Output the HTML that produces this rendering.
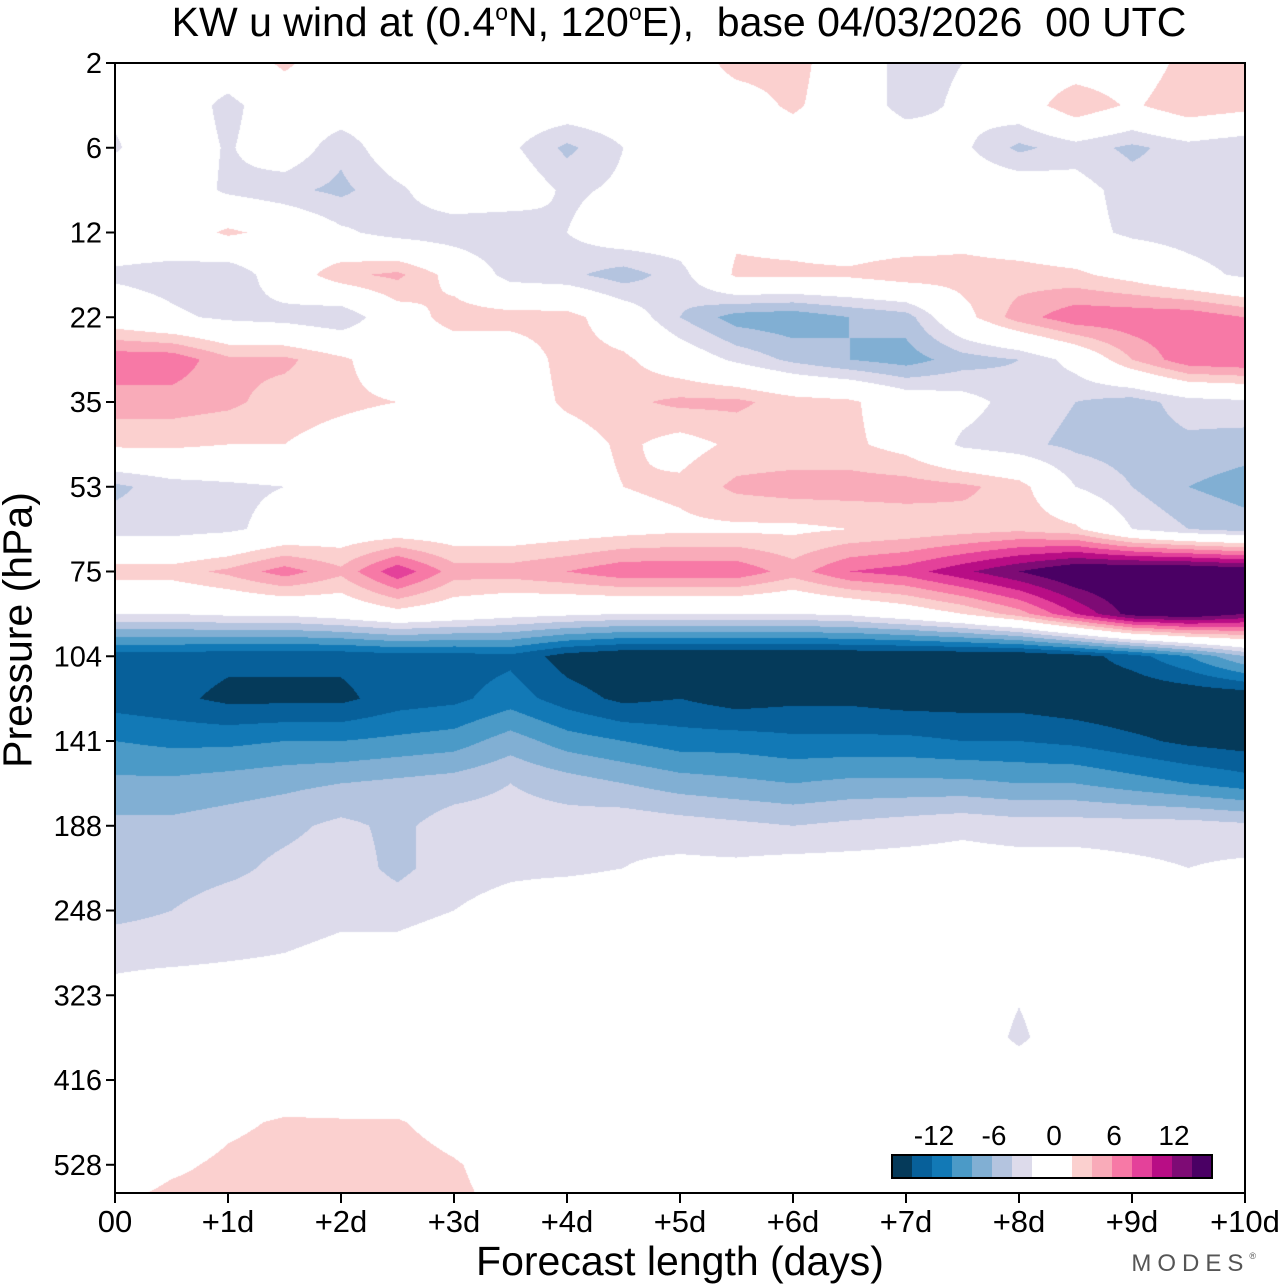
<!DOCTYPE html>
<html>
<head>
<meta charset="utf-8">
<style>
  html, body { margin: 0; padding: 0; background: #fff; }
  body { width: 1280px; height: 1286px; position: relative; overflow: hidden; font-family: "Liberation Sans", Arial, sans-serif; color: #000; }
  #title { position: absolute; top: 0; left: 0; width: 1358px; text-align: center; font-size: 41px; line-height: 44px; }
  #title sup { font-size: 23px; vertical-align: 16px; line-height: 0; }
  #field { position: absolute; left: 115px; top: 63px; }
  #axes { position: absolute; left: 0; top: 0; }
  #ylabel { position: absolute; left: 18px; top: 630px; transform: translate(-50%, -50%) rotate(-90deg); transform-origin: center; font-size: 41px; white-space: nowrap; }
  #xlabel { position: absolute; left: 680px; top: 1238px; transform: translateX(-50%); font-size: 41px; white-space: nowrap; }
  #modes { position: absolute; right: 24px; top: 1250px; font-size: 24px; letter-spacing: 6px; color: #555; }
  #modes sup { font-size: 9px; letter-spacing: 0; vertical-align: 12px; }
</style>
</head>
<body>
<div id="title">KW u wind at (0.4<sup>o</sup>N, 120<sup>o</sup>E),&nbsp; base 04/03/2026&nbsp; 00 UTC</div>
<canvas id="field" width="1130" height="1130"></canvas>
<svg id="axes" width="1280" height="1286"></svg>
<div id="ylabel">Pressure (hPa)</div>
<div id="xlabel">Forecast length (days)</div>
<div id="modes">MODES<sup>®</sup></div>
<script>
// ---- data ----
const pressureLabels = ["2","6","12","22","35","53","75","104","141","188","248","323","416","528"];
const dayLabels = ["00","+1d","+2d","+3d","+4d","+5d","+6d","+7d","+8d","+9d","+10d"];
const colorbarLabels = [-12, -6, 0, 6, 12];
const levelBounds = [-14,-12,-10,-8,-6,-4,-2,2,4,6,8,10,12,14];
const levelColors = ["#053a5a","#07609a","#1279b6","#4b9ac7","#81afd3","#b4c4df","#dddbeb","#ffffff","#fbd0cf","#f9abb9","#f779a6","#e4419a","#b80d85","#7e0b75","#4a0064"];
// forecast time (days) of each grid column, every 12 h
const forecastDays = [0,0.5,1,1.5,2,2.5,3,3.5,4,4.5,5,5.5,6,6.5,7,7.5,8,8.5,9,9.5,10];
// model-level index (in tick units, 0 = 2 hPa) of each grid row
const levelIndex = [0,0.5,1,1.5,2,2.5,3,3.5,4,4.5,5,5.5,6,6.5,7,7.5,8,8.5,9,9.5,10,10.5,11,11.5,12,12.5,13,13.5];
// u wind (m/s), rows = levels, cols = forecast times
const uWind = [
 [0,0,0,2.5,0,0,0,-1,-1,0,0,3,3,0,-3,-2,0,0,0,3,3],
 [-1.5,0,-2.8,0,0,0,0,0,0,0,0,0.5,2.5,0,-3,-1.5,0,4,1.5,4,3],
 [-2.3,0,-2.3,0,-3.5,0,0,-1.5,-4.5,-2,0,0,0,0,0,-1.5,-4.5,-3,-4.5,-3,-4],
 [0,0,-2.5,-3.5,-4.5,-2.5,0,0,-2.5,-1.5,0,0,0,0,0,0,0,-1,-3,-3,-3.5],
 [0,0,2.5,1,-1.5,-3,-3.5,-4,-2,0,0,1.5,1,0,0,1,0,-1,-2.5,-3,-3.5],
 [-2.5,-3,-4,0,3.5,4.5,1,-3,-3.5,-5,-3,2.5,2.5,2.5,3.5,3,3,2.5,1,-1,-2.5],
 [0,-1.5,-2.5,-3,-4,0.5,3,3,3,0,-4,-7,-7.5,-6,-5,1,5,7.5,7.5,7.5,6],
 [7.5,7.5,4.5,4.5,2.5,0,0,0,3,2.5,0,-2.5,-4.5,-6,-7,-5,-4,-1,4,7.5,8],
 [5,5,4.5,3,2.5,2,0,0,2.5,3.5,4.5,4.5,3,2.5,0,-1,-3,-4,-5,-3,-2.5],
 [2.5,2.5,2,2,1,0,0,0,0.5,2.5,1,2.5,2.5,2.5,1,-2.5,-3.5,-4.5,-5,-4.5,-5],
 [-4.5,-3,-2.5,-2,1,0,0,0,0.5,2,2.5,4.5,5,5,5,4.5,3,-2,-4,-6,-7],
 [-3,-3,-2.5,-1,0,0,0,0,0.5,1,1.5,1.5,1.5,2,2.5,3,3.5,2.5,-2,-4,-5],
 [3,3,4.5,7,4.5,9.5,5,5,6,7.5,7.5,7.5,5,8,9,11.5,14,16.5,17,17,16],
 [-2,-2,-1.5,-1.5,-0.5,1,0,-1,-1.5,-2,-2,-2,-2,-1.5,0,2,5,10,15,16,14],
 [-13,-13,-13.5,-13.5,-13.5,-13,-13,-12.5,-15,-16,-16,-16,-16,-16,-16,-16,-16,-15,-13,-10,-6],
 [-13,-13.5,-14.5,-14.5,-14.5,-13,-12.5,-11,-13,-14.5,-14,-15,-14.5,-14.5,-15,-15,-15,-15.5,-16,-16,-16],
 [-10,-10.5,-10.5,-10,-10,-9.5,-9,-7,-9,-10,-11,-11,-11.5,-11.5,-11.5,-12,-12,-12.5,-13.5,-14.5,-15],
 [-7.5,-7.5,-7,-6.5,-6,-5.5,-5,-4,-5,-6,-7,-7.5,-8,-7.5,-7.5,-7.5,-8,-8,-9,-10,-11],
 [-5.5,-5.5,-5,-4.5,-3.5,-4.5,-3,-3,-3,-2.5,-3,-3.5,-4,-3.5,-3,-2.5,-3,-3,-3,-3,-3.5],
 [-5,-5,-4.5,-3.5,-3,-4.5,-3,-2.5,-2.5,-2,-1.5,-1.5,-1,-1,-1,-1,-1,-1,-1.5,-2,-1.5],
 [-4.5,-4,-3,-3,-2.5,-3,-2,-1,0,0,0,0,0,0,0,0,0,0,0,0,0],
 [-3,-3,-2.5,-2,-1.5,-1,0,0,0,0,0,0,0,0,0,0,0,0,0,0,0],
 [-1,0,0,0,0,0,0,0,0,0,0,0,0,0,0,0,-1.8,0,0,0,0],
 [0,0,0,0,0,0,0,0,0,0,0,0,0,0,0,0,-2.5,0,0,0,0],
 [0,0,0,0,0,0,0,0,0,0,0,0,0,0,0,0,0,0,0,0,0],
 [0,0,1.5,2.3,2.2,2.2,1,0,0,0,0,0,0,0,0,0,0,0,0,0,0],
 [0,1.5,2.5,3,3,3,2.2,1,0,0,0,0,0,0,0,0,0,0,0,0,0],
 [2,3,3,3,3,3,2.5,1.5,0,0,0,0,0,0,0,0,0,0,0,0,0]
];

// ---- axes ----
const PL = 115, PT = 63, PW = 1130, PH = 1130;
const xScale = d => PL + d / 10 * PW;               // days -> px
const yScale = k => PT + k / 13.333 * PH;            // level index -> px

function sample(dDays, lev) {
  const nC = forecastDays.length, nR = levelIndex.length;
  let fi = dDays / (forecastDays[1] - forecastDays[0]);
  let fj = lev / (levelIndex[1] - levelIndex[0]);
  fi = Math.max(0, Math.min(nC - 1.0001, fi));
  fj = Math.max(0, Math.min(nR - 1.0001, fj));
  const i = Math.floor(fi), j = Math.floor(fj), a = fi - i, b = fj - j;
  return uWind[j][i] * (1 - a) * (1 - b) + uWind[j][i + 1] * a * (1 - b) +
         uWind[j + 1][i] * (1 - a) * b + uWind[j + 1][i + 1] * a * b;
}

// ---- draw field ----
(function () {
  const cv = document.getElementById('field');
  const ctx = cv.getContext('2d');
  const img = ctx.createImageData(PW, PH);
  const rgb = levelColors.map(h => [parseInt(h.substr(1,2),16), parseInt(h.substr(3,2),16), parseInt(h.substr(5,2),16)]);
  for (let py = 0; py < PH; py++) {
    const lev = (py + 0.5) / PH * 13.333;
    for (let px = 0; px < PW; px++) {
      const d = (px + 0.5) / PW * 10;
      const v = sample(d, lev);
      let k = 0;
      while (k < levelBounds.length && v >= levelBounds[k]) k++;
      const c = rgb[k], o = (py * PW + px) * 4;
      img.data[o] = c[0]; img.data[o+1] = c[1]; img.data[o+2] = c[2]; img.data[o+3] = 255;
    }
  }
  ctx.putImageData(img, 0, 0);
})();

// ---- draw axes, ticks, colorbar ----
(function () {
  const NS = 'http://www.w3.org/2000/svg';
  const svg = document.getElementById('axes');
  function mk(tag, attrs) {
    const e = document.createElementNS(NS, tag);
    for (const k in attrs) e.setAttribute(k, attrs[k]);
    svg.appendChild(e);
    return e;
  }
  const frame = mk('rect', {x: PL, y: PT, width: PW, height: PH, fill: 'none', stroke: '#000', 'stroke-width': 2});
  
  

  pressureLabels.forEach((lab, k) => {
    const y = yScale(k);
    const t = mk('line', {x1: PL - 9, x2: PL, y1: y, y2: y, stroke: '#000', 'stroke-width': 2});
    
    
    const tx = mk('text', {x: PL - 13, y: y + 10, 'text-anchor': 'end', 'font-size': 29, 'font-family': 'Liberation Sans, sans-serif'});
    tx.textContent = lab;
    
    
  });
  dayLabels.forEach((lab, k) => {
    const x = xScale(k);
    const t = mk('line', {x1: x, x2: x, y1: PT + PH, y2: PT + PH + 10, stroke: '#000', 'stroke-width': 2});
    
    
    const tx = mk('text', {x: x, y: 1232, 'text-anchor': 'middle', 'font-size': 31, 'font-family': 'Liberation Sans, sans-serif'});
    tx.textContent = lab;
    
    
  });

  // colorbar: 2 units per 20 px, value 0 at x=1052
  const cbY = 1155, cbH = 23, unit = 10;
  const cbx = v => 1052 + v * unit;
  const edges = [-16].concat(levelBounds).concat([16]);
  for (let k = 0; k < levelColors.length; k++) {
    const r = mk('rect', {x: cbx(edges[k]), y: cbY, width: cbx(edges[k+1]) - cbx(edges[k]), height: cbH, fill: levelColors[k]});
    
    
  }
  const cbf = mk('rect', {x: cbx(-16), y: cbY, width: cbx(16) - cbx(-16), height: cbH, fill: 'none', stroke: '#000', 'stroke-width': 2});
  
  
  colorbarLabels.forEach(v => {
    const tx = mk('text', {x: cbx(v) + 2, y: 1145, 'text-anchor': 'middle', 'font-size': 28, 'font-family': 'Liberation Sans, sans-serif'});
    tx.textContent = String(v);
    
    
  });
})();
</script>
</body>
</html>
